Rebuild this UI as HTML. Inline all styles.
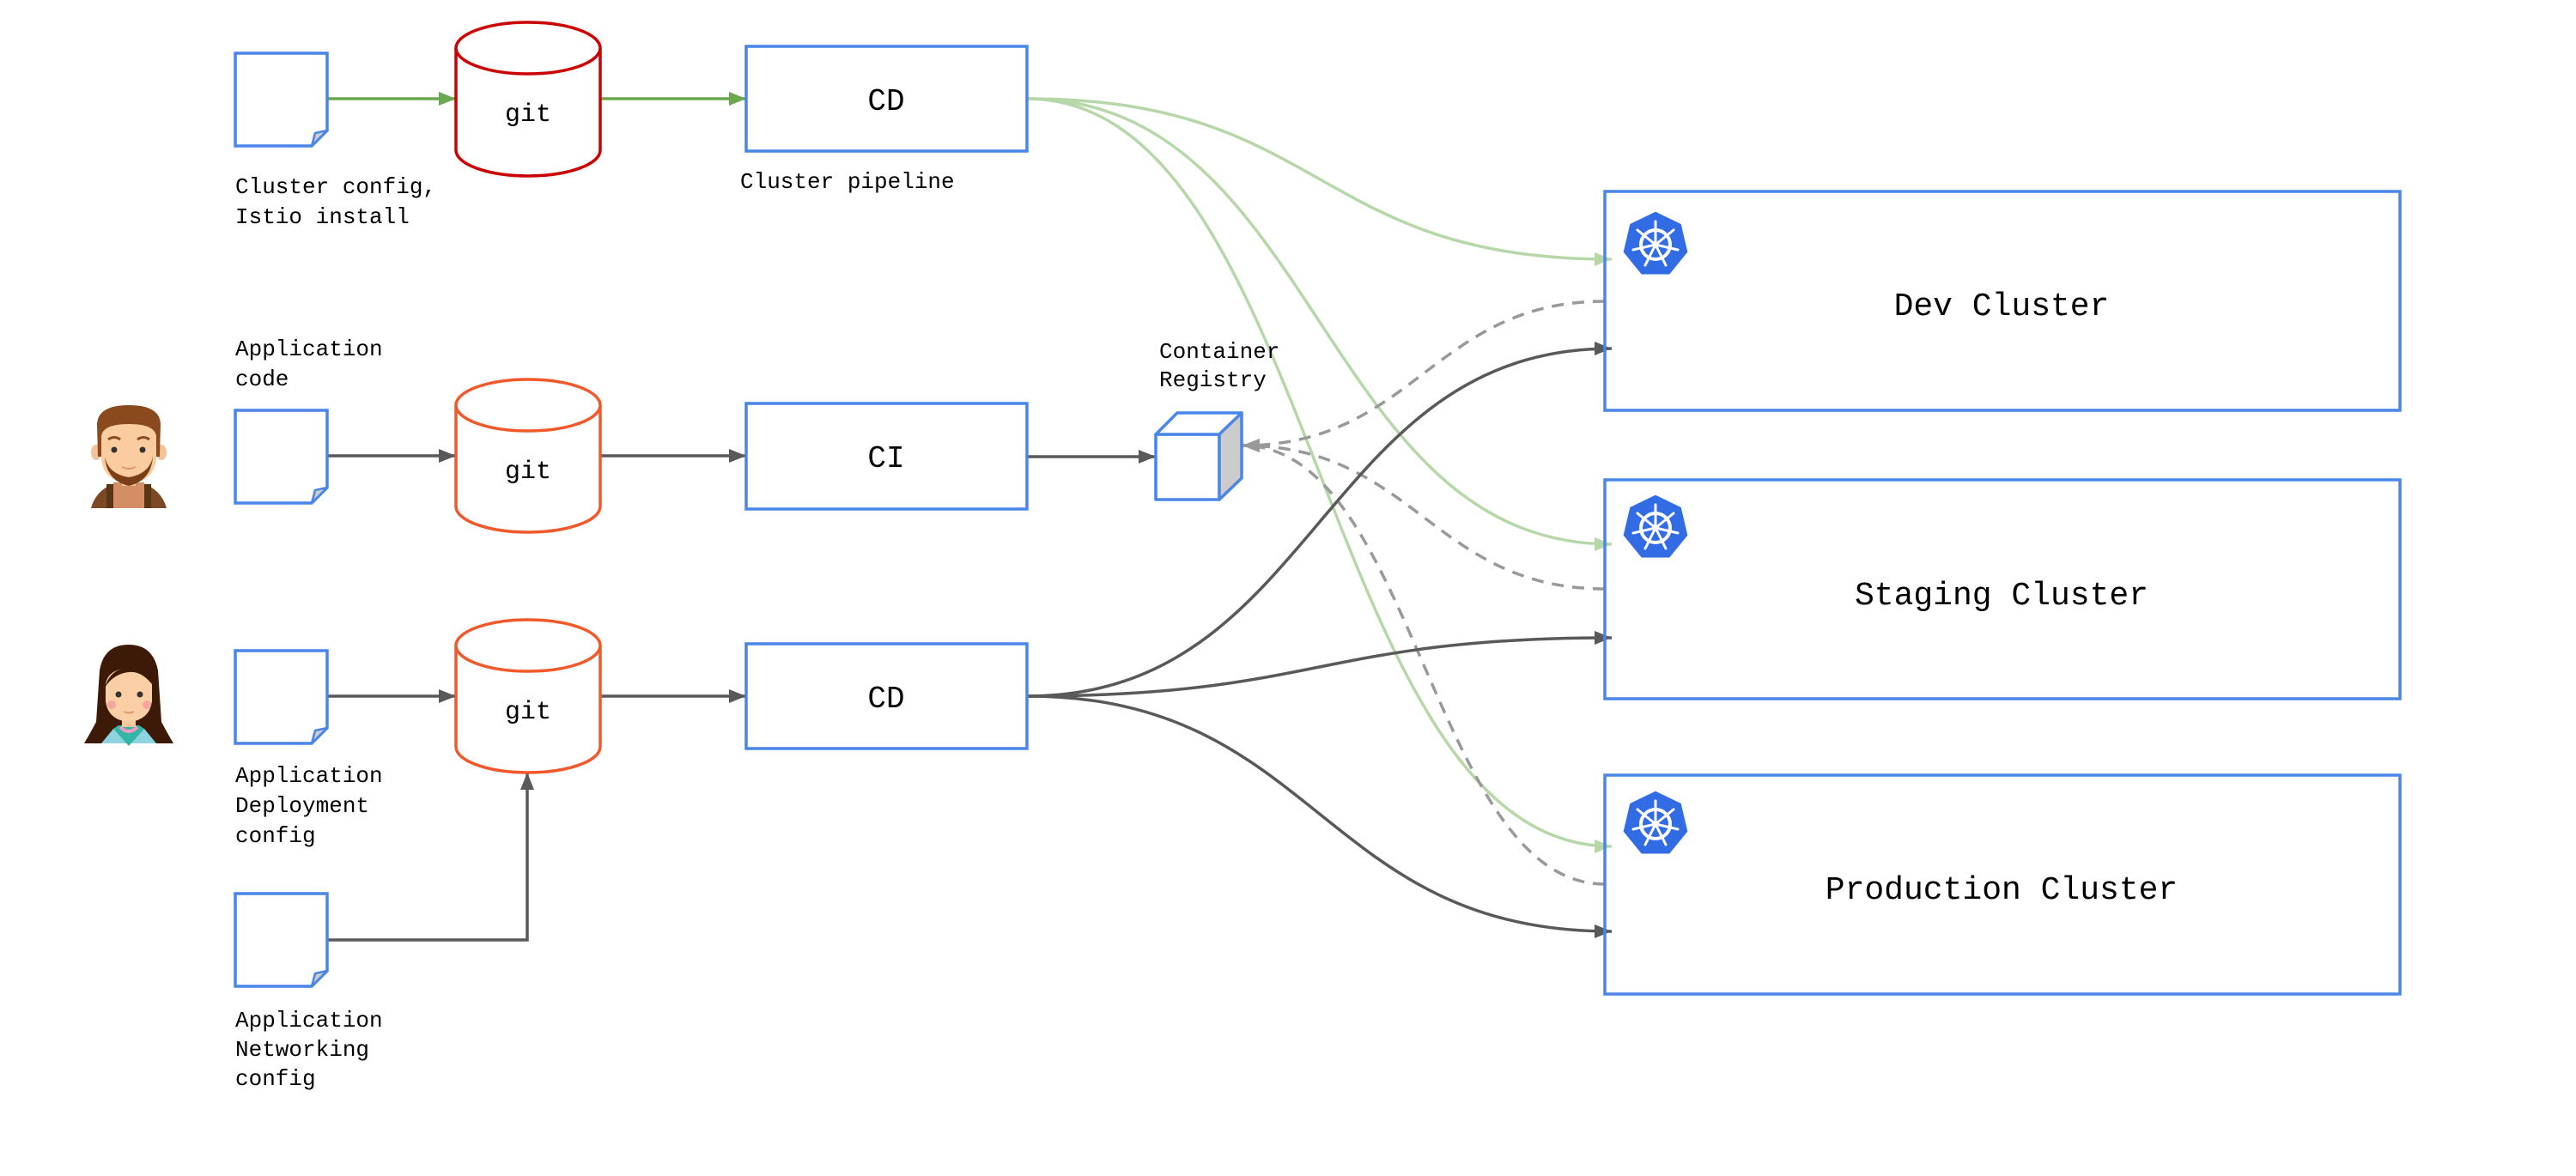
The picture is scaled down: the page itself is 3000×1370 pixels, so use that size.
<!DOCTYPE html>
<html><head><meta charset="utf-8"><style>html,body{margin:0;padding:0;background:#fff}svg{display:block}</style></head>
<body>
<svg width="3000" height="1370" viewBox="0 0 3000 1370" xmlns="http://www.w3.org/2000/svg" font-family="'Liberation Mono', monospace">
<defs>
<marker id="ag" viewBox="0 0 10 10" refX="10" refY="5" markerWidth="5" markerHeight="5" orient="auto" markerUnits="userSpaceOnUse" style="overflow:visible"><path d="M0,0 L10,5 L0,10 z" fill="#6aa84f" transform="scale(2)" /></marker>
<marker id="ad" viewBox="0 0 20 20" refX="20" refY="10" markerWidth="20" markerHeight="20" orient="auto" markerUnits="userSpaceOnUse"><path d="M0,2 L20,10 L0,18 z" fill="#595959"/></marker>
<marker id="al" viewBox="0 0 20 20" refX="20" refY="10" markerWidth="20" markerHeight="20" orient="auto" markerUnits="userSpaceOnUse"><path d="M0,2 L20,10 L0,18 z" fill="#b6d7a8"/></marker>
<marker id="agr" viewBox="0 0 20 20" refX="20" refY="10" markerWidth="20" markerHeight="20" orient="auto" markerUnits="userSpaceOnUse"><path d="M0,2 L20,10 L0,18 z" fill="#999"/></marker>
<marker id="agn" viewBox="0 0 20 20" refX="20" refY="10" markerWidth="20" markerHeight="20" orient="auto" markerUnits="userSpaceOnUse"><path d="M0,2 L20,10 L0,18 z" fill="#6aa84f"/></marker>
<g id="doc">
<path d="M0,0 H107 V90 L89,108 H0 Z" fill="#fff" stroke="#4a86e8" stroke-width="3.5"/>
<path d="M107,90 L93,93 L89,108 Z" fill="#ccc" stroke="#4a86e8" stroke-width="2.5" stroke-linejoin="round"/>
</g>
<g id="k8s">
<polygon points="0,-40 31,-25 39,9 17,36 -17,36 -39,9 -31,-25" fill="#326ce5" stroke="#fff" stroke-width="3" stroke-linejoin="round"/>
<circle r="17" fill="none" stroke="#fff" stroke-width="4"/>
<circle r="4" fill="#fff"/>
<g stroke="#fff" stroke-width="3" stroke-linecap="round">
<line x1="0" y1="0" x2="0" y2="-27"/>
<line x1="0" y1="0" x2="21" y2="-17"/>
<line x1="0" y1="0" x2="26" y2="6"/>
<line x1="0" y1="0" x2="12" y2="24"/>
<line x1="0" y1="0" x2="-12" y2="24"/>
<line x1="0" y1="0" x2="-26" y2="6"/>
<line x1="0" y1="0" x2="-21" y2="-17"/>
</g>
</g>
</defs>

<!-- curves (behind) -->
<g fill="none" stroke="#b6d7a8" stroke-width="3.5">
<path d="M1196,115 C1546,115 1527,302 1877,302" marker-end="url(#al)"/>
<path d="M1196,115 C1536,115 1537,634 1877,634" marker-end="url(#al)"/>
<path d="M1196,115 C1536,115 1537,986 1877,986" marker-end="url(#al)"/>
</g>
<g fill="none" stroke="#999" stroke-width="3.5" stroke-dasharray="14,10">
<path d="M1869,351 C1669,351 1647,519 1447,519" marker-end="url(#agr)"/>
<path d="M1869,686 C1669,686 1647,519 1447,519" marker-end="url(#agr)"/>
<path d="M1869,1030 C1669,1030 1647,519 1447,519" marker-end="url(#agr)"/>
</g>
<g fill="none" stroke="#595959" stroke-width="3.5">
<path d="M1196,811 C1536,811 1537,406 1877,406" marker-end="url(#ad)"/>
<path d="M1196,811 C1536,811 1537,743 1877,743" marker-end="url(#ad)"/>
<path d="M1196,811 C1536,811 1537,1085 1877,1085" marker-end="url(#ad)"/>
</g>

<!-- straight arrows -->
<g stroke="#6aa84f" stroke-width="3.5" fill="none">
<line x1="381" y1="115" x2="531" y2="115" marker-end="url(#agn)"/>
<line x1="699" y1="115" x2="869" y2="115" marker-end="url(#agn)"/>
</g>
<g stroke="#595959" stroke-width="3.5" fill="none">
<line x1="381" y1="531" x2="531" y2="531" marker-end="url(#ad)"/>
<line x1="699" y1="531" x2="869" y2="531" marker-end="url(#ad)"/>
<line x1="1196" y1="532" x2="1346" y2="532" marker-end="url(#ad)"/>
<line x1="381" y1="811" x2="531" y2="811" marker-end="url(#ad)"/>
<line x1="699" y1="811" x2="869" y2="811" marker-end="url(#ad)"/>
<polyline points="381,1095 614,1095 614,900" marker-end="url(#ad)"/>
</g>

<!-- docs -->
<use href="#doc" x="274" y="62"/>
<use href="#doc" x="274" y="478"/>
<use href="#doc" x="274" y="758"/>
<use href="#doc" x="274" y="1041"/>

<!-- cylinders -->
<g fill="#fff" stroke-width="3.5">
<path d="M531,56 V175 A84,30 0 0 0 699,175 V56" stroke="#cc0000"/>
<ellipse cx="615" cy="56" rx="84" ry="30" stroke="#cc0000"/>
<path d="M531,472 V590 A84,30 0 0 0 699,590 V472" stroke="#f1592a"/>
<ellipse cx="615" cy="472" rx="84" ry="30" stroke="#f1592a"/>
<path d="M531,752 V870 A84,30 0 0 0 699,870 V752" stroke="#f1592a"/>
<ellipse cx="615" cy="752" rx="84" ry="30" stroke="#f1592a"/>
</g>
<g font-size="30" text-anchor="middle" fill="#000">
<text x="615" y="141">git</text>
<text x="615" y="557">git</text>
<text x="615" y="837">git</text>
</g>

<!-- boxes -->
<g fill="#fff" stroke="#4a86e8" stroke-width="3.5">
<rect x="869" y="54" width="327" height="122"/>
<rect x="869" y="470" width="327" height="123"/>
<rect x="869" y="750" width="327" height="122"/>
</g>
<g font-size="36" text-anchor="middle">
<text x="1032" y="128">CD</text>
<text x="1032" y="544">CI</text>
<text x="1032" y="824">CD</text>
</g>

<!-- cube -->
<g stroke="#4a86e8" stroke-width="3.5" stroke-linejoin="round">
<rect x="1346" y="506" width="74" height="76" fill="#fff"/>
<polygon points="1346,506 1371,481 1446,481 1420,506" fill="#fff"/>
<polygon points="1420,506 1446,481 1446,557 1420,582" fill="#ccc"/>
</g>

<!-- labels -->
<g font-size="26" fill="#000">
<text x="274" y="225">Cluster config,</text>
<text x="274" y="260">Istio install</text>
<text x="862" y="219">Cluster pipeline</text>
<text x="274" y="414">Application</text>
<text x="274" y="449">code</text>
<text x="1350" y="417">Container</text>
<text x="1350" y="450">Registry</text>
<text x="274" y="911">Application</text>
<text x="274" y="946">Deployment</text>
<text x="274" y="981">config</text>
<text x="274" y="1196">Application</text>
<text x="274" y="1230">Networking</text>
<text x="274" y="1264">config</text>
</g>

<!-- clusters -->
<g fill="none" stroke="#4a86e8" stroke-width="3.5">
<rect x="1869" y="223" width="926" height="255"/>
<rect x="1869" y="559" width="926" height="255"/>
<rect x="1869" y="903" width="926" height="255"/>
</g>
<use href="#k8s" x="1928" y="285"/>
<use href="#k8s" x="1928" y="615"/>
<use href="#k8s" x="1928" y="960"/>
<g font-size="38" text-anchor="middle">
<text x="2331" y="367">Dev Cluster</text>
<text x="2331" y="704">Staging Cluster</text>
<text x="2331" y="1047">Production Cluster</text>
</g>

<!-- man avatar -->
<g transform="translate(106,472)">
<path d="M0,120 Q6,98 30,90 H58 Q82,98 88,120 Z" fill="#7b4a25"/>
<rect x="26" y="90" width="36" height="30" fill="#d38e66"/>
<rect x="18" y="92" width="8" height="28" fill="#5a3516"/>
<rect x="62" y="92" width="8" height="28" fill="#5a3516"/>
<rect x="36" y="78" width="16" height="16" fill="#f5c39a"/>
<ellipse cx="6" cy="55" rx="6" ry="9" fill="#f5c39a"/>
<ellipse cx="82" cy="55" rx="6" ry="9" fill="#f5c39a"/>
<path d="M7,22 Q8,0 44,0 Q80,0 81,22 L80,60 L8,60 Z" fill="#8b4a1e"/>
<path d="M12,36 Q14,22 44,22 Q74,22 76,36 V62 Q74,88 44,92 Q14,88 12,62 Z" fill="#fbcca0"/>
<path d="M16,60 Q20,80 44,84 Q68,80 72,60 Q70,88 44,94 Q18,88 16,60 Z" fill="#7a3f18"/>
<circle cx="27" cy="52" r="3.5" fill="#333"/>
<circle cx="60" cy="52" r="3.5" fill="#333"/>
<path d="M20,40 Q27,35 34,40 M54,40 Q61,35 68,40" stroke="#8b4a1e" stroke-width="3" fill="none"/>
<path d="M36,72 Q44,76 52,72" stroke="#e0976a" stroke-width="2" fill="none"/>
</g>

<!-- woman avatar -->
<g transform="translate(96,751)">
<path d="M20,30 Q25,0 54,0 Q82,0 88,30 L92,90 Q100,105 106,115 H2 Q8,105 16,90 Z" fill="#3d1a07"/>
<path d="M22,115 L36,98 H72 L86,115 Z" fill="#8dd3e0"/>
<path d="M36,98 L54,118 L72,98 L66,94 H42 Z" fill="#35b5a5"/>
<path d="M44,96 Q54,106 64,96" stroke="#f29ac1" stroke-width="4" fill="none"/>
<rect x="46" y="82" width="16" height="14" fill="#f9c89b"/>
<path d="M27,46 Q30,28 54,28 Q78,28 81,46 V66 Q78,88 54,90 Q30,88 27,66 Z" fill="#fbcfa5"/>
<path d="M26,50 Q34,24 60,28 Q80,30 84,50 Q70,30 54,32 Q36,34 26,50 Z" fill="#3d1a07"/>
<circle cx="42" cy="58" r="3.5" fill="#333"/>
<circle cx="67" cy="58" r="3.5" fill="#333"/>
<circle cx="34" cy="70" r="5" fill="#f4a6a0"/>
<circle cx="75" cy="70" r="5" fill="#f4a6a0"/>
<path d="M48,78 Q54,81 60,78" stroke="#e0976a" stroke-width="2" fill="none"/>
</g>
</svg>
</body></html>
